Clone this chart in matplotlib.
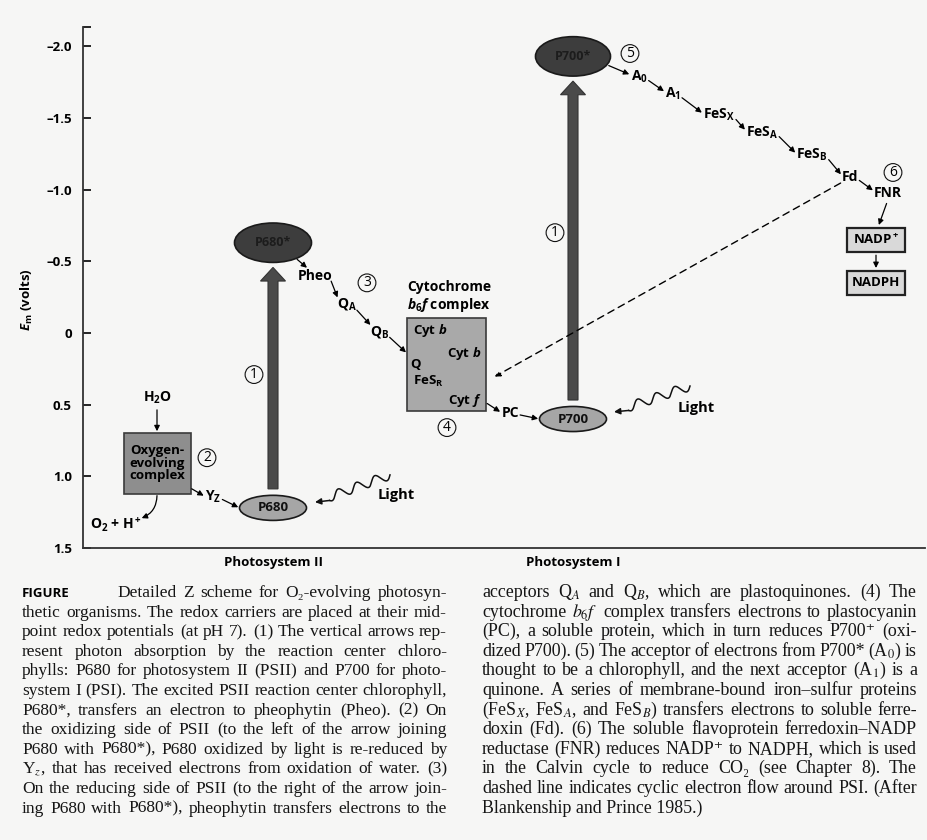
import numpy as np
import matplotlib.pyplot as plt
from matplotlib.patches import Ellipse, Rectangle

plt.rcParams['font.family'] = ['Open Sans', 'DejaVu Sans']
plt.rcParams['mathtext.fontset'] = 'custom'
plt.rcParams['mathtext.rm'] = 'Open Sans:bold'
plt.rcParams['mathtext.it'] = 'Open Sans:italic:bold'
plt.rcParams['mathtext.bf'] = 'Open Sans:bold'

# ---- data: x is a layout column, y is the midpoint potential E_m (volts) ----
yticks = [-2.0, -1.5, -1.0, -0.5, 0.0, 0.5, 1.0, 1.5]
ytick_labels = ['\u20132.0', '\u20131.5', '\u20131.0', '\u20130.5', '0', '0.5', '1.0', '1.5']

psii_x, psi_x = 190, 490
p680_em, p680_star_em = 1.22, -0.63
p700_em, p700_star_em = 0.60, -1.93

psii_names = ['Pheo', 'Q$_\\mathrm{A}$', 'Q$_\\mathrm{B}$']
psii_xs = [232, 264, 297]
psii_em = [-0.40, -0.20, -0.01]

psi_names = ['A$_\\mathrm{0}$', 'A$_\\mathrm{1}$', 'FeS$_\\mathrm{X}$', 'FeS$_\\mathrm{A}$',
             'FeS$_\\mathrm{B}$', 'Fd', 'FNR']
psi_xs = [556, 590, 636, 679, 729, 767, 805]
psi_em = [-1.79, -1.67, -1.52, -1.40, -1.24, -1.09, -0.98]

nadp_x = 793
nadp_names = ['NADP$^+$', 'NADPH']
nadp_em = [-0.65, -0.35]

yz_x, yz_em = 130, 1.14
oec_x, oec_em = 74, 0.91
h2o_x, h2o_em = 74, 0.45
o2_x, o2_em = 33, 1.34
cyt_x0, cyt_x1, cyt_top, cyt_bot = 324, 403, -0.105, 0.545
pc_x, pc_em = 427, 0.56

step_labels = ['1', '2', '3', '4', '1', '5', '6']
step_xs = [171, 124, 284, 364, 472, 547, 810]
step_em = [0.29, 0.87, -0.35, 0.66, -0.70, -1.95, -1.12]

first_line = "Detailed Z scheme for O\u2082-evolving photosyn-"
left_lines = [
    "thetic organisms. The redox carriers are placed at their mid-",
    "point redox potentials (at pH 7). (1) The vertical arrows rep-",
    "resent photon absorption by the reaction center chloro-",
    "phylls: P680 for photosystem II (PSII) and P700 for photo-",
    "system I (PSI). The excited PSII reaction center chlorophyll,",
    "P680*, transfers an electron to pheophytin (Pheo). (2) On",
    "the oxidizing side of PSII (to the left of the arrow joining",
    "P680 with P680*), P680 oxidized by light is re-reduced by",
    "Y$_z$, that has received electrons from oxidation of water. (3)",
    "On the reducing side of PSII (to the right of the arrow join-",
    "ing P680 with P680*), pheophytin transfers electrons to the",
]
right_lines = [
    "acceptors Q$_A$ and Q$_B$, which are plastoquinones. (4) The",
    "cytochrome $b_6f$ complex transfers electrons to plastocyanin",
    "(PC), a soluble protein, which in turn reduces P700\u207a (oxi-",
    "dized P700). (5) The acceptor of electrons from P700* (A$_0$) is",
    "thought to be a chlorophyll, and the next acceptor (A$_1$) is a",
    "quinone. A series of membrane-bound iron\u2013sulfur proteins",
    "(FeS$_X$, FeS$_A$, and FeS$_B$) transfers electrons to soluble ferre-",
    "doxin (Fd). (6) The soluble flavoprotein ferredoxin\u2013NADP",
    "reductase (FNR) reduces NADP\u207a to NADPH, which is used",
    "in the Calvin cycle to reduce CO\u2082 (see Chapter 8). The",
    "dashed line indicates cyclic electron flow around PSI. (After",
    "Blankenship and Prince 1985.)",
]

W, H = 927, 840
fig = plt.figure(figsize=(W / 100, H / 100), dpi=100, facecolor='#f6f6f5')
ax = fig.add_axes([83 / W, 1 - 548 / H, 842 / W, 521 / H])
ax.set_facecolor('none')
ax.set_xlim(0, 842)
ax.set_ylim(1.5, -2.135)
for s in ['top', 'right']:
    ax.spines[s].set_visible(False)
for s in ['left', 'bottom']:
    ax.spines[s].set_linewidth(1.3)
    ax.spines[s].set_color('#333333')
ax.set_yticks(yticks)
ax.set_yticklabels(ytick_labels, fontsize=9.5, fontweight='bold')
ax.set_yticks([-2.135], minor=True)
ax.tick_params(axis='y', which='both', direction='in', length=6, width=1.2, pad=8)
ax.set_xticks([psii_x, psi_x])
ax.set_xticklabels(['Photosystem II', 'Photosystem I'], fontsize=9.5, fontweight='bold')
ax.tick_params(axis='x', length=0, pad=6)
ax.set_ylabel(r'$\mathit{E}_\mathrm{m}$ (volts)', fontsize=9.5, fontweight='bold')
ax.yaxis.set_label_coords(-0.057, 0.476)

lab_fs = 10
arrow_kw = dict(arrowstyle='-|>', color='k', lw=0.9, mutation_scale=8, shrinkA=1, shrinkB=1)


def link(a, b, pa, pb, **kw):
    props = dict(arrow_kw)
    props.update(kw)
    ax.annotate('', xy=pb, xycoords=b, xytext=pa, textcoords=a, arrowprops=props)


# photosystem ellipses
excited = []
ground = []
for x, em_g, em_e, lab, w in [(psii_x, p680_em, p680_star_em, 'P680', 77),
                               (psi_x, p700_em, p700_star_em, 'P700', 75)]:
    e1 = Ellipse((x, em_e), w, 0.275, fc='#3d3d3d', ec='#1a1a1a', lw=1.2, zorder=3)
    e0 = Ellipse((x, em_g), 67, 0.175, fc='#a6a6a6', ec='#1a1a1a', lw=1.2, zorder=3)
    ax.add_patch(e1)
    ax.add_patch(e0)
    ax.text(x, em_e, lab + '*', ha='center', va='center', fontsize=9,
            fontweight='bold', color='#1c1c1c', zorder=4)
    ax.text(x, em_g, lab, ha='center', va='center', fontsize=9.5,
            fontweight='bold', color='#111111', zorder=4)
    # light-driven excitation arrow
    y0 = em_g - 0.0875 - 0.045
    y1 = em_e + 0.1375 + 0.035
    ax.arrow(x, y0, 0, y1 - y0, width=10, head_width=25, head_length=0.095,
             length_includes_head=True, fc='#4a4a4a', ec='#333333', lw=0.8, zorder=2)
    excited.append(e1)
    ground.append(e0)


def wavy_light(start, end, text_xy):
    p0 = ax.transData.transform(start)
    p1 = ax.transData.transform(end)
    d = p1 - p0
    L = np.hypot(*d)
    u = d / L
    nrm = np.array([-u[1], u[0]])
    t = np.linspace(0, 0.82, 200)
    amp = 4.5 * np.sin(2 * np.pi * 4.1 * t)
    pts = p0 + np.outer(t * L, u) + np.outer(amp, nrm)
    pts = ax.transData.inverted().transform(pts)
    ax.plot(pts[:, 0], pts[:, 1], color='#111111', lw=1.1)
    ax.annotate('', xy=end, xytext=pts[-1],
                arrowprops=dict(arrowstyle='-|>', color='#111111', lw=1.1,
                                mutation_scale=9, shrinkA=0, shrinkB=0))
    ax.text(text_xy[0], text_xy[1], 'Light', ha='left', va='center',
            fontsize=10.5, fontweight='bold')


wavy_light((307, 0.99), (232, 1.18), (295, 1.13))
wavy_light((607, 0.37), (531, 0.55), (595, 0.52))

# PSII donor side
oec = Rectangle((oec_x - 33.5, oec_em - 0.215), 67, 0.43, fc='#8e8e8e',
                ec='#3a3a3a', lw=1.2, zorder=3)
ax.add_patch(oec)
ax.text(oec_x, oec_em, 'Oxygen-\nevolving\ncomplex', ha='center', va='center',
        fontsize=9.5, fontweight='bold', linespacing=0.95, zorder=4)
t_h2o = ax.text(h2o_x, h2o_em, 'H$_\\mathrm{2}$O', ha='center', va='center',
                fontsize=lab_fs, fontweight='bold')
t_o2 = ax.text(o2_x, o2_em, 'O$_\\mathrm{2}$ + H$^+$', ha='center', va='center',
               fontsize=lab_fs, fontweight='bold')
t_yz = ax.text(yz_x, yz_em, 'Y$_\\mathrm{Z}$', ha='center', va='center',
               fontsize=lab_fs, fontweight='bold')
link(t_h2o, oec, (0.5, 0.0), (0.5, 1.0), shrinkA=3)
link(oec, t_o2, (0.5, 0.0), (0.97, 0.85), connectionstyle='arc3,rad=-0.35')
link(oec, t_yz, (1.0, 0.1), (0.0, 0.5))
link(t_yz, ground[0], (1.0, 0.35), (0.0, 0.5))

# PSII acceptor side
prev = excited[0]
prev_pt = (0.8, 0.1)
first_pt = (0.3, 1.0)
for name, x, em in zip(psii_names, psii_xs, psii_em):
    t = ax.text(x, em, name, ha='center', va='center', fontsize=lab_fs, fontweight='bold')
    link(prev, t, prev_pt, first_pt)
    prev, prev_pt, first_pt = t, (0.95, 0.2), (0.05, 0.85)

# cytochrome b6f complex
cyt = Rectangle((cyt_x0, cyt_top), cyt_x1 - cyt_x0, cyt_bot - cyt_top, fc='#a9a9a9',
                ec='#3a3a3a', lw=1.2, zorder=3)
ax.add_patch(cyt)
link(prev, cyt, prev_pt, (0.0, 0.62))
ax.text(cyt_x0, cyt_top - 0.215, 'Cytochrome', ha='left', va='center',
        fontsize=10, fontweight='bold')
ax.text(cyt_x0, cyt_top - 0.09, '$\\mathit{b}_\\mathrm{6}\\mathit{f}$ complex', ha='left',
        va='center', fontsize=10, fontweight='bold')
cyt_items = [('Cyt $\\mathit{b}$', 6, 0.085), ('Cyt $\\mathit{b}$', 40, 0.245),
             ('Q', 3, 0.325), ('FeS$_\\mathrm{R}$', 6, 0.445), ('Cyt $\\mathit{f}$', 41, 0.575)]
for lab, dx, dy in cyt_items:
    ax.text(cyt_x0 + dx, cyt_top + dy, lab, ha='left', va='center', fontsize=9.5,
            fontweight='bold', zorder=4)
t_pc = ax.text(pc_x, pc_em, 'PC', ha='center', va='center', fontsize=lab_fs, fontweight='bold')
link(cyt, t_pc, (1.0, 0.09), (0.0, 0.55))
link(t_pc, ground[1], (1.0, 0.4), (0.0, 0.5))

# PSI acceptor side
prev = excited[1]
prev_pt = (0.96, 0.28)
chain = []
for name, x, em in zip(psi_names, psi_xs, psi_em):
    t = ax.text(x, em, name, ha='center', va='center', fontsize=lab_fs, fontweight='bold')
    link(prev, t, prev_pt, (0.0, 0.6))
    prev, prev_pt = t, (1.0, 0.3)
    chain.append(t)

boxes = []
for name, em in zip(nadp_names, nadp_em):
    t = ax.text(nadp_x, em, name, ha='center', va='center', fontsize=9.5, fontweight='bold',
                bbox=dict(boxstyle='square,pad=0.4', fc='#d9d9d9', ec='#222222', lw=1.6))
    boxes.append(t)
link(chain[-1], boxes[0], (0.5, 0.0), (0.5, 1.0), shrinkA=3, shrinkB=6)
link(boxes[0], boxes[1], (0.5, 0.0), (0.5, 1.0), shrinkA=6, shrinkB=6)

# cyclic electron flow around PSI
link(chain[-2], cyt, (0.0, 0.1), (1.11, 0.37), linestyle=(0, (5, 3.5)), lw=1.0, shrinkB=0)

# step numbers
for lab, x, em in zip(step_labels, step_xs, step_em):
    ax.text(x, em, lab, ha='center', va='center', fontsize=10,
            bbox=dict(boxstyle='circle,pad=0.1', fc='none', ec='#111111', lw=0.8))

# ---- caption, justified between the column edges ----
renderer = fig.canvas.get_renderer()
cap_kw = dict(family=['Liberation Serif', 'DejaVu Serif'], va='baseline',
              math_fontfamily='stix', color='#151515')


def put_line(x0, x1, y, line, size, justify=True):
    if not justify:
        fig.text(x0 / W, 1 - y / H, line, fontsize=size, **cap_kw)
        return
    words = line.split(' ')
    texts = [fig.text(0, 1 - y / H, wd, fontsize=size, **cap_kw) for wd in words]
    widths = [t.get_window_extent(renderer).width for t in texts]
    gap = (x1 - x0 - sum(widths)) / (len(words) - 1)
    x = x0
    for t, wd in zip(texts, widths):
        t.set_x(x / W)
        x += wd + gap


y0, dy = 597, 19.6
fig.text(22 / W, 1 - y0 / H, 'FIGURE', fontsize=9.5, fontweight='bold', va='baseline')
put_line(117, 447, y0, first_line, 12.5)
for i, line in enumerate(left_lines):
    put_line(22, 447, y0 + (i + 1) * dy, line, 12.5)
for i, line in enumerate(right_lines):
    put_line(482, 917, y0 + i * dy, line, 12.9, justify=i < len(right_lines) - 1)

fig.savefig('out.png', dpi=100, facecolor=fig.get_facecolor())
